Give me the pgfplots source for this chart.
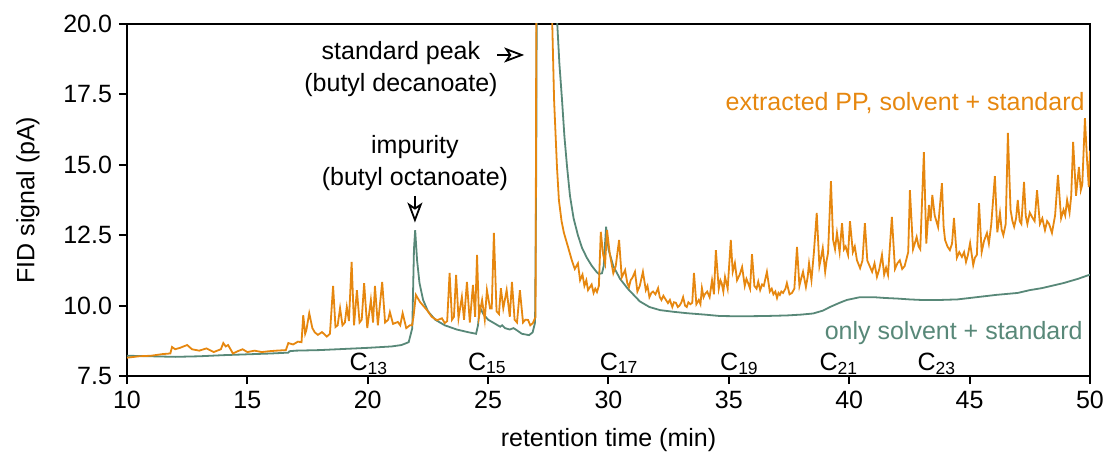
\documentclass[border=0pt]{standalone}
\usepackage{pgfplots}
\pgfplotsset{compat=1.18}
\usepackage{fontspec}
\setmainfont{Liberation Sans}
\usetikzlibrary{arrows.meta}
\definecolor{ppor}{RGB}{230,135,15}
\definecolor{solv}{RGB}{88,136,120}

\pgfplotstableread{
x y
10.0 8.22
11.0 8.20
12.0 8.18
13.0 8.20
14.0 8.24
15.0 8.27
16.0 8.30
16.7 8.33
16.75 8.38
17.0 8.40
18.0 8.42
19.0 8.46
20.0 8.50
21.0 8.55
21.4 8.60
21.7 8.70
21.85 9.20
21.92 12.0
21.97 12.68
22.05 11.6
22.15 10.8
22.3 10.2
22.5 9.8
22.8 9.5
23.2 9.3
23.7 9.15
24.2 9.05
24.5 9.00
24.58 9.30
24.65 9.95
24.8 9.70
25.0 9.50
25.3 9.35
25.5 9.25
25.58 9.30
25.7 9.20
25.9 9.15
26.05 9.20
26.15 9.15
26.4 9.00
26.7 8.95
26.85 9.05
26.95 9.40
27.0 15
27.05 30
27.75 30
27.86 20.2
27.96 18.6
28.07 17.3
28.17 16.0
28.28 14.92
28.4 13.9
28.55 13.1
28.73 12.5
28.9 12.05
29.1 11.7
29.3 11.42
29.5 11.2
29.6 11.12
29.73 11.15
29.8 11.4
29.9 12.8
30.0 12.0
30.2 11.4
30.48 10.95
30.8 10.6
31.3 10.15
31.7 9.95
32.14 9.84
32.7 9.78
33.26 9.73
34.0 9.68
34.63 9.63
35.5 9.62
36.5 9.63
37.4 9.65
38.0 9.68
38.5 9.72
38.9 9.82
39.2 9.95
39.6 10.10
39.9 10.20
40.45 10.30
41.0 10.30
41.5 10.27
42.0 10.25
42.5 10.22
43.0 10.20
43.77 10.20
44.5 10.22
45.0 10.27
46.1 10.38
47.0 10.45
47.5 10.55
48.0 10.62
48.9 10.80
49.5 10.95
50.0 11.10
}\solvent

\pgfplotstableread{
x y
10.0 8.15
10.5 8.20
11.0 8.22
11.5 8.28
11.8 8.30
11.87 8.53
12.0 8.45
12.2 8.50
12.5 8.60
12.7 8.45
13.0 8.40
13.3 8.48
13.6 8.35
13.9 8.45
14.0 8.67
14.1 8.55
14.2 8.60
14.4 8.30
14.6 8.38
14.8 8.45
15.0 8.35
15.3 8.40
15.6 8.35
15.9 8.38
16.2 8.40
16.6 8.42
16.7 8.67
16.9 8.62
17.1 8.72
17.25 8.70
17.32 9.66
17.4 9.00
17.45 9.13
17.57 9.73
17.7 9.20
17.8 9.05
17.93 8.96
18.1 9.06
18.3 8.90
18.43 9.00
18.56 10.7
18.66 9.24
18.75 9.30
18.85 9.91
18.95 9.30
19.05 9.40
19.13 9.95
19.22 9.45
19.33 11.55
19.43 9.30
19.55 10.55
19.66 9.40
19.75 9.50
19.85 10.8
19.98 9.20
20.13 10.2
20.22 9.40
20.3 10.7
20.42 9.30
20.6 10.84
20.72 9.40
20.85 9.50
20.92 9.77
21.05 9.35
21.25 9.42
21.35 9.30
21.45 9.73
21.6 9.20
21.75 9.30
21.84 9.30
21.9 9.60
22.0 10.38
22.17 10.13
22.3 10.0
22.46 9.84
22.66 9.60
22.88 9.48
23.08 9.55
23.2 9.38
23.3 9.45
23.4 11.16
23.5 9.50
23.58 9.60
23.67 11.09
23.77 9.55
23.91 10.31
24.0 9.50
24.12 10.84
24.24 9.40
24.37 10.73
24.46 9.60
24.54 11.8
24.62 9.60
24.75 10.2
24.86 9.50
24.95 10.55
25.08 9.90
25.15 9.90
25.24 12.58
25.35 9.80
25.45 9.70
25.53 10.62
25.63 9.90
25.77 10.55
25.9 9.60
25.99 10.84
26.1 9.50
26.2 9.40
26.32 10.55
26.45 9.40
26.55 9.50
26.66 9.49
26.75 9.30
26.86 9.38
26.97 9.60
27.03 30
27.6 30
27.65 20.5
27.74 17.3
27.86 14.92
27.94 13.75
28.05 13.0
28.15 12.58
28.32 12.08
28.48 11.6
28.6 11.3
28.73 11.5
28.82 10.9
28.92 11.1
29.0 10.7
29.08 10.9
29.15 10.55
29.3 10.75
29.38 10.45
29.45 10.6
29.52 10.48
29.6 10.7
29.68 12.62
29.78 11.8
29.86 11.5
29.94 12.68
30.05 11.86
30.2 11.15
30.3 11.4
30.44 12.33
30.55 11.0
30.69 11.26
30.78 10.8
30.85 10.66
30.92 10.9
31.0 11.0
31.1 11.2
31.2 10.5
31.3 10.7
31.43 11.2
31.55 10.55
31.62 10.7
31.7 10.3
31.78 10.45
31.85 10.5
31.95 10.4
32.06 10.62
32.13 10.3
32.2 10.2
32.28 10.35
32.35 10.25
32.47 10.09
32.55 10.2
32.65 9.95
32.72 10.12
32.8 10.1
32.88 9.95
32.95 10.0
33.02 10.1
33.1 10.3
33.18 10.0
33.25 9.95
33.32 10.12
33.4 10.05
33.48 10.1
33.55 11.16
33.65 10.05
33.75 10.2
33.82 10.05
33.88 10.62
33.95 10.3
34.0 10.4
34.1 10.5
34.2 10.3
34.3 10.9
34.38 10.4
34.46 11.97
34.58 10.6
34.65 10.9
34.7 10.8
34.77 10.5
34.84 11.02
34.95 10.6
35.08 12.33
35.16 11.2
35.25 11.51
35.34 10.9
35.45 11.1
35.55 11.37
35.66 10.7
35.73 10.95
35.8 10.8
35.88 10.6
35.96 11.83
36.06 10.7
36.15 10.6
36.22 10.85
36.3 10.55
36.38 10.75
36.45 10.7
36.58 11.2
36.7 10.5
36.78 10.6
36.85 10.4
36.93 10.5
37.0 10.27
37.06 10.45
37.12 10.38
37.18 10.5
37.25 10.45
37.35 10.6
37.41 10.8
37.52 10.4
37.62 10.45
37.72 10.6
37.83 12.08
37.93 10.7
38.0 10.95
38.08 11.2
38.2 10.66
38.27 11.0
38.33 11.5
38.43 10.9
38.53 11.87
38.65 13.29
38.76 11.4
38.83 11.7
38.9 12.04
39.0 11.2
39.06 11.6
39.12 11.87
39.24 14.42
39.33 12.33
39.41 12.0
39.49 12.58
39.6 11.9
39.7 12.93
39.78 12.0
39.85 12.1
39.95 11.8
40.03 13.0
40.15 11.9
40.23 12.1
40.32 11.61
40.45 11.33
40.55 11.6
40.65 12.93
40.75 11.6
40.85 11.4
40.95 11.2
41.05 11.5
41.15 11.02
41.25 11.3
41.36 11.8
41.45 11.1
41.53 11.35
41.61 11.09
41.77 13.15
41.9 11.3
42.0 11.5
42.1 11.61
42.2 11.3
42.3 11.4
42.45 11.9
42.52 14.1
42.65 12.0
42.72 12.2
42.8 12.44
42.88 12.1
42.95 12.0
43.1 15.45
43.2 12.2
43.31 13.57
43.38 13.0
43.45 13.93
43.55 13.2
43.62 13.0
43.69 12.79
43.85 14.35
43.92 12.8
43.98 12.33
44.08 12.1
44.18 11.97
44.27 12.2
44.35 13.11
44.47 11.7
44.57 11.9
44.68 11.73
44.77 11.9
44.85 11.55
44.93 11.8
45.02 12.22
45.15 11.44
45.22 11.7
45.3 11.8
45.39 13.64
45.5 11.9
45.6 12.3
45.72 12.58
45.8 12.2
45.9 12.9
46.05 14.6
46.15 12.6
46.26 13.29
46.33 12.7
46.4 12.5
46.5 12.9
46.59 16.13
46.7 13.4
46.78 13.0
46.85 12.8
46.93 13.1
47.0 13.75
47.08 13.0
47.15 12.9
47.26 14.39
47.33 13.2
47.4 12.9
47.5 13.3
47.59 13.15
47.7 13.0
47.8 14.1
47.92 12.9
48.02 13.1
48.13 12.68
48.22 13.0
48.3 12.9
48.42 12.58
48.55 13.2
48.67 14.64
48.8 13.1
48.9 13.4
48.97 13.2
49.05 13.75
49.15 13.3
49.22 13.9
49.3 15.81
49.42 13.9
49.54 14.92
49.62 14.1
49.68 14.3
49.79 16.66
49.87 15.28
49.95 14.21
50.0 15.5
}\extracted

\begin{document}
\begin{tikzpicture}
\path[use as bounding box] (-63.5pt,-42.5pt) rectangle (491pt,188pt);
\begin{axis}[
  at={(0,0)}, anchor=south west,
  width=481.5pt, height=176pt, scale only axis,
  xmin=10, xmax=50, ymin=7.5, ymax=20,
  xtick={10,15,...,50}, ytick={7.5,10,...,20},
  xtick pos=bottom, ytick pos=left,
  tick align=outside, major tick length=4pt,
  axis line style={line width=1pt}, every tick/.style={line width=1pt, black},
  /pgf/number format/assume math mode=true,
  yticklabel style={/pgf/number format/.cd, fixed, fixed zerofill, precision=1},
  ticklabel style={font=\fontsize{12.5}{15}\selectfont},
  label style={font=\fontsize{12.5}{15}\selectfont},
  xlabel={retention time (min)}, ylabel={FID signal (pA)},
  xlabel style={at={(axis description cs:0.5,-0.182)}, anchor=center},
  ylabel style={at={(axis description cs:-0.103,0.5)}, anchor=center},
  clip mode=individual,
]
\addplot[solv, line width=0.9pt] table {\solvent};
\addplot[ppor, line width=0.9pt] table {\extracted};

\node[align=center, font=\fontsize{12.5}{16}\selectfont] at (axis cs:21.38,18.4) {standard peak\\(butyl decanoate)};
\draw[line width=0.9pt, arrows={-Stealth[open, length=10pt, width=7.5pt, inset=2.5pt]}] (axis cs:25.37,18.9) -- (axis cs:26.5,18.9);
\node[align=center, font=\fontsize{12.5}{16}\selectfont] at (axis cs:21.96,15.08) {impurity\\(butyl octanoate)};
\draw[line width=0.9pt, arrows={-Stealth[open, length=10pt, width=7.5pt, inset=2.5pt]}] (axis cs:21.96,13.9) -- (axis cs:21.96,12.95);

\node[anchor=east, text=ppor, font=\fontsize{12.5}{15}\selectfont, inner sep=0pt] at (axis cs:49.79,17.2) {extracted PP, solvent + standard};
\node[anchor=east, text=solv, font=\fontsize{12.5}{15}\selectfont, inner sep=0pt] at (axis cs:49.71,9.03) {only solvent + standard};

\foreach \cx/\cn in {20.05/13, 24.97/15, 30.44/17, 35.44/19, 39.57/21, 43.64/23}{
  \edef\tmp{\noexpand\node[anchor=base, font=\noexpand\fontsize{12.5}{15}\noexpand\selectfont, inner sep=0pt] at (axis cs:\cx,7.71) {C\noexpand\textsubscript{\cn}};}
  \tmp
}
\end{axis}
\end{tikzpicture}
\end{document}
